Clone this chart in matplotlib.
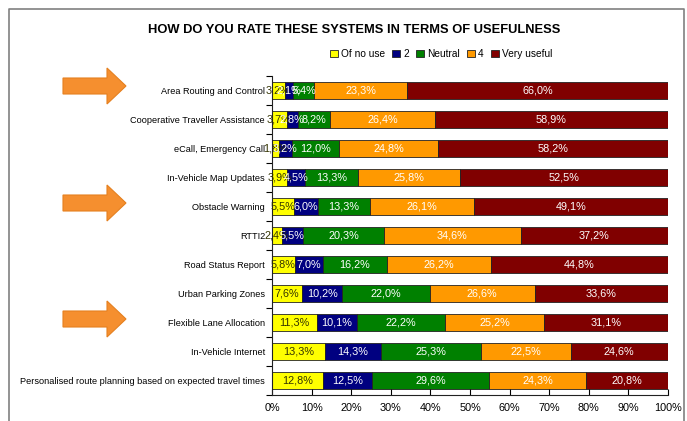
import matplotlib
matplotlib.use('Agg')
import matplotlib.pyplot as plt
import numpy as np
from matplotlib.patches import Polygon

plt.rcParams['font.family'] = ['Liberation Sans', 'DejaVu Sans']

categories = ['Area Routing and Control',
              'Cooperative Traveller Assistance',
              'eCall, Emergency Call',
              'In-Vehicle Map Updates',
              'Obstacle Warning',
              'RTTI2',
              'Road Status Report',
              'Urban Parking Zones',
              'Flexible Lane Allocation',
              'In-Vehicle Internet',
              'Personalised route planning based on expected travel times']

of_no_use = [3.2, 3.7, 1.8, 3.9, 5.5, 2.4, 5.8, 7.6, 11.3, 13.3, 12.8]
rating_2 = [2.1, 2.8, 3.2, 4.5, 6.0, 5.5, 7.0, 10.2, 10.1, 14.3, 12.5]
neutral = [5.4, 8.2, 12.0, 13.3, 13.3, 20.3, 16.2, 22.0, 22.2, 25.3, 29.6]
rating_4 = [23.3, 26.4, 24.8, 25.8, 26.1, 34.6, 26.2, 26.6, 25.2, 22.5, 24.3]
very_useful = [66.0, 58.9, 58.2, 52.5, 49.1, 37.2, 44.8, 33.6, 31.1, 24.6, 20.8]

series_names = ['Of no use', '2', 'Neutral', '4', 'Very useful']
series = [of_no_use, rating_2, neutral, rating_4, very_useful]
colors = ['#FFFF00', '#000080', '#008000', '#FF9900', '#800000']
text_colors = ['#333300', 'white', 'white', 'white', 'white']

W, H = 687, 421
fig = plt.figure(figsize=(W / 100, H / 100), dpi=100, facecolor='w')

# background overlay for frame and arrows (pixel coords)
bg = fig.add_axes([0, 0, 1, 1])
bg.set_xlim(0, W)
bg.set_ylim(H, 0)
bg.axis('off')
bg.plot([9, 9, 684, 684], [H, 9, 9, H], color='#808080', lw=1.2)


def arrow(yc):
    pts = [(63, yc - 8), (107, yc - 8), (107, yc - 18), (126, yc),
           (107, yc + 18), (107, yc + 8), (63, yc + 8)]
    bg.add_patch(Polygon(pts, closed=True, facecolor='#F58F2F',
                         edgecolor='#E5801F', lw=0.8))


for yc in [86, 203, 319]:
    arrow(yc)

ax = fig.add_axes([272 / W, 1 - 395 / H, (668 - 272) / W, (395 - 76) / H])
y = np.arange(len(categories))
left = np.zeros(len(categories))
for name, vals, c, tc in zip(series_names, series, colors, text_colors):
    vals = np.array(vals)
    ax.barh(y, vals, left=left, height=0.6, color=c, edgecolor='#222222',
            linewidth=0.6, label=name)
    for yi, l, v in zip(y, left, vals):
        ax.text(l + v / 2, yi, '{:.1f}%'.format(v).replace('.', ','),
                ha='center', va='center', fontsize=7.8, color=tc)
    left += vals

ax.set_xlim(0, 100)
ax.set_ylim(len(categories) - 0.5, -0.5)
ax.set_yticks(y)
ax.set_yticklabels(categories, fontsize=6.6)
ax.set_yticks(np.arange(len(categories) + 1) - 0.5, minor=True)
ax.tick_params(axis='y', which='major', length=0, pad=5)
ax.tick_params(axis='y', which='minor', length=4, direction='out', width=0.8)
ax.set_xticks(np.arange(0, 101, 10))
ax.set_xticklabels(['{}%'.format(t) for t in range(0, 101, 10)], fontsize=7.8)
ax.tick_params(axis='x', length=4, direction='in', width=0.8, pad=6)
for s in ['top', 'right']:
    ax.spines[s].set_visible(False)
ax.spines['left'].set_color('#222222')
ax.spines['bottom'].set_color('#222222')

fig.text(354 / W, 1 - 30 / H, 'HOW DO YOU RATE THESE SYSTEMS IN TERMS OF USEFULNESS',
         ha='center', va='center', fontsize=9.3, fontweight='bold')

leg = ax.legend(loc='center', bbox_to_anchor=(441 / W, 1 - 54 / H),
                bbox_transform=fig.transFigure, ncol=5, frameon=False,
                fontsize=7.3, handlelength=0.8, handleheight=0.8,
                handletextpad=0.3, columnspacing=0.7)

fig.savefig('out.png', dpi=100)
